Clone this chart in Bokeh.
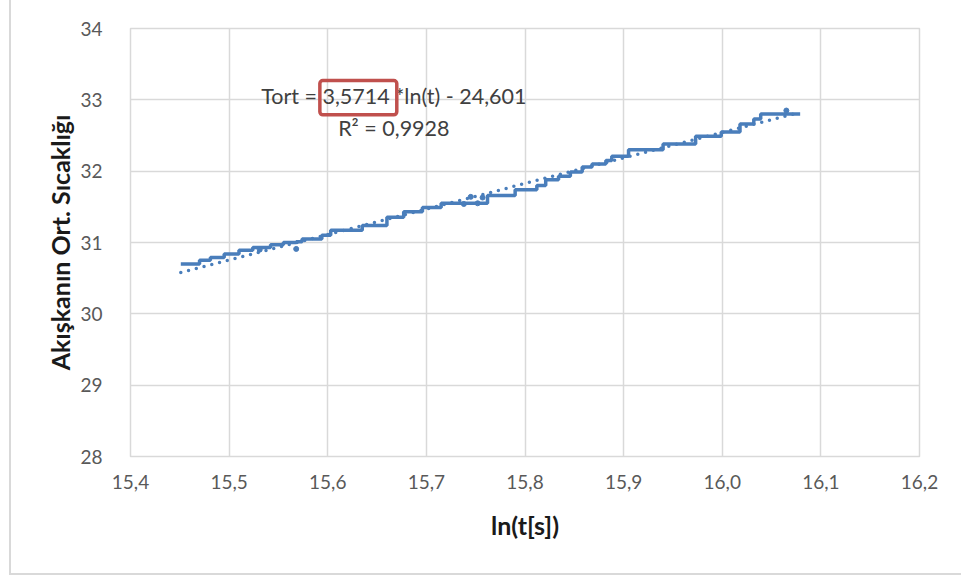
from bokeh.plotting import figure
from bokeh.models import BoxAnnotation, FixedTicker, Label, InlineStyleSheet
from bokeh.embed import file_html
from bokeh.resources import INLINE

# Measured fluid temperature (steps) against ln(t)
step_ln = [15.451, 15.470, 15.481, 15.495, 15.510, 15.524, 15.542, 15.555, 15.568,
           15.574, 15.594, 15.603, 15.635, 15.660, 15.677, 15.696, 15.715, 15.762,
           15.790, 15.812, 15.821, 15.834, 15.846, 15.858, 15.868, 15.882, 15.888,
           15.905, 15.940, 15.973, 15.999, 16.018, 16.032, 16.039, 16.079]
step_T = [30.70, 30.75, 30.79, 30.84, 30.89, 30.93, 30.97, 31.00, 31.01,
          31.05, 31.10, 31.17, 31.24, 31.355, 31.43, 31.49, 31.55, 31.66,
          31.74, 31.80, 31.88, 31.93, 31.99, 32.06, 32.10, 32.15, 32.21,
          32.30, 32.38, 32.49, 32.55, 32.66, 32.73, 32.80, 32.80]

# scattered readings off the step levels
blip_ln = [15.531, 15.568, 15.738, 15.745, 15.752, 15.757, 16.065]
blip_T = [30.90, 30.91, 31.54, 31.64, 31.55, 31.63, 32.85]

# logarithmic trendline coefficients
slope = 3.5714
intercept = -24.601
r2 = 0.9928

x_ticks = [15.4, 15.5, 15.6, 15.7, 15.8, 15.9, 16.0, 16.1, 16.2]
y_ticks = [28, 29, 30, 31, 32, 33, 34]

BLUE = "#4a7ebb"
GRID = "#d9d9d9"
FONT = "Lato"

# light frame around the whole chart area
frame_css = InlineStyleSheet(css="""
:host::after {
  content: '';
  position: absolute;
  left: 9px; top: -4px; right: -20px; bottom: 0px;
  border: 2px solid #d9d9d9;
  pointer-events: none;
}
""")

p = figure(width=961, height=575, x_range=(15.4, 16.2), y_range=(28, 34),
           output_backend="svg", toolbar_location=None,
           min_border_left=130, min_border_right=42,
           min_border_top=28, min_border_bottom=119,
           stylesheets=[frame_css])
p.background_fill_color = "white"
p.border_fill_color = "white"
p.outline_line_color = GRID
p.outline_line_width = 1.5

for ax in (p.xaxis[0], p.yaxis[0]):
    ax.axis_line_color = None
    ax.major_tick_line_color = None
    ax.minor_tick_line_color = None
    ax.major_label_text_font = FONT
    ax.major_label_text_font_size = "19px"
    ax.major_label_text_color = "#595959"
    ax.axis_label_text_font = FONT
    ax.axis_label_text_font_size = "25px"
    ax.axis_label_text_font_style = "bold"
    ax.axis_label_text_color = "#1a1a1a"

p.xaxis.ticker = FixedTicker(ticks=x_ticks)
p.xaxis.major_label_overrides = {t: f"{t:.1f}".replace(".", ",") for t in x_ticks}
p.yaxis.ticker = FixedTicker(ticks=y_ticks)
p.yaxis.major_label_overrides = {t: str(t) for t in y_ticks}
p.xaxis.major_label_standoff = 12
p.yaxis.major_label_standoff = 22
p.xaxis.axis_label = "ln(t[s])"
p.yaxis.axis_label = "Akışkanın Ort. Sıcaklığı"
p.xaxis.axis_label_standoff = 18
p.yaxis.axis_label_standoff = 2

p.xgrid.ticker = FixedTicker(ticks=x_ticks)
p.ygrid.ticker = FixedTicker(ticks=y_ticks)
p.xgrid.grid_line_color = GRID
p.ygrid.grid_line_color = GRID
p.xgrid.grid_line_width = 1.5
p.ygrid.grid_line_width = 1.5

# measured data
p.step(step_ln, step_T, mode="after", line_color=BLUE, line_width=3.5)
p.scatter(blip_ln, blip_T, size=5, color=BLUE)

# dotted logarithmic trendline
tx = [step_ln[0], step_ln[-1]]
ty = [slope * v + intercept for v in tx]
p.line(tx, ty, line_color=BLUE, line_width=3.5, line_dash="0 8", line_cap="round")

eq = "Tort = " + f"{slope:.4f}".replace(".", ",") + " *ln(t) - " + f"{-intercept:.3f}".replace(".", ",")
p.add_layout(Label(x=15.667, y=33.05, text=eq, text_align="center", text_baseline="middle",
                   text_font=FONT, text_font_size="21.5px", text_color="#404040"))
p.add_layout(Label(x=15.667, y=32.61, text="R² = " + f"{r2:.4f}".replace(".", ","),
                   text_align="center", text_baseline="middle",
                   text_font=FONT, text_font_size="21.5px", text_color="#404040"))

# highlight box around the slope
p.add_layout(BoxAnnotation(left=15.592, right=15.670, bottom=32.79, top=33.27,
                           fill_color=None, fill_alpha=0, line_color="#c0504d",
                           line_alpha=1, line_width=3.5, border_radius=3))

open("out.html", "w").write(file_html(p, INLINE))
